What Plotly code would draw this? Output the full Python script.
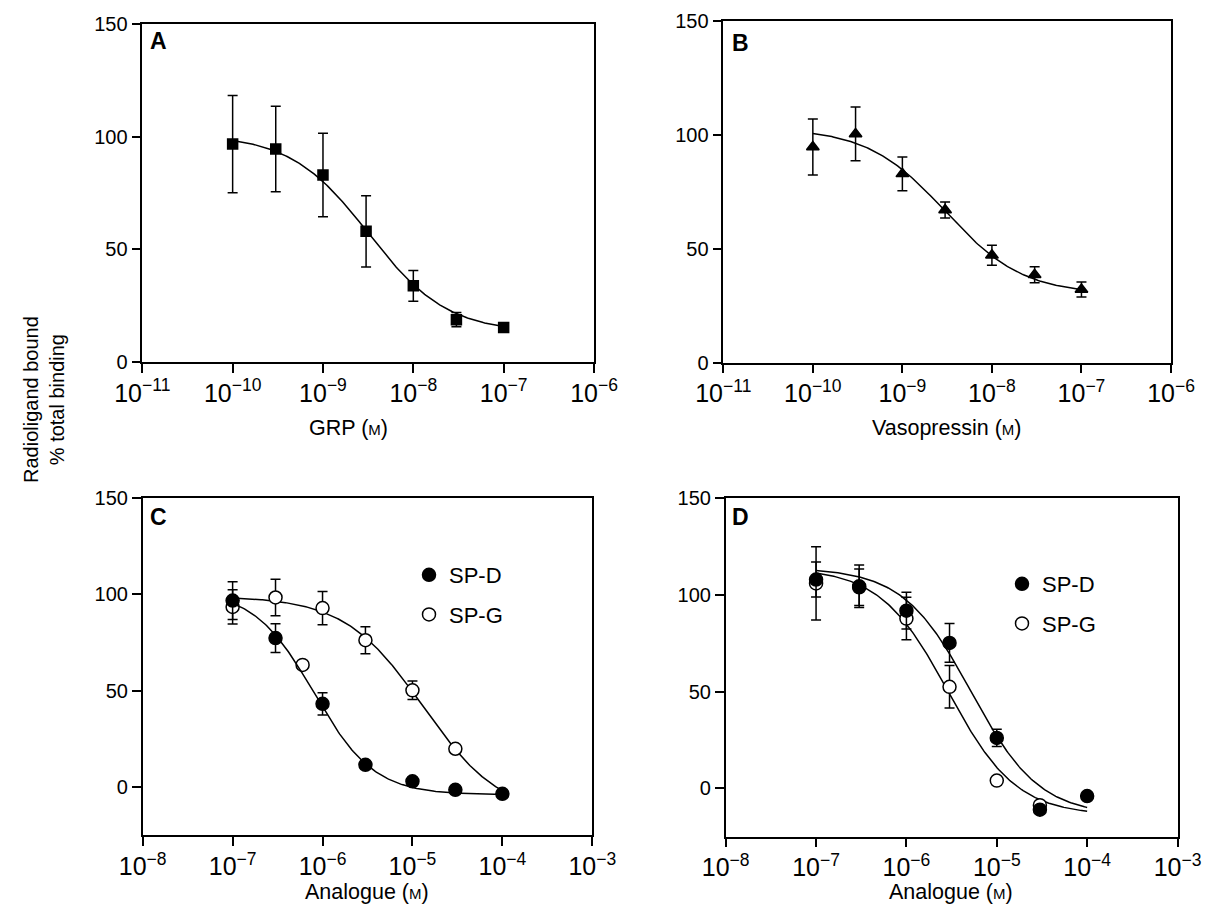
import numpy as np
import plotly.graph_objects as go

W, H = 1212, 908
OFF = 8  # default page body margin
FW, FH = W - OFF, H - OFF

# ---------------- data ----------------
# Panel A: GRP
grp_x = [1e-10, 3e-10, 1e-9, 3e-9, 1e-8, 3e-8, 1e-7]
grp_y = [96.7, 94.5, 83.0, 58.0, 33.8, 18.8, 15.3]
grp_err = [21.6, 19.0, 18.5, 15.8, 6.8, 3.2, None]
grp_fit = dict(top=101, bottom=13, ic50=3.2e-9, hill=1.0, x0=1e-10, x1=1e-7)

# Panel B: Vasopressin
avp_x = [1e-10, 3e-10, 1e-9, 3e-9, 1e-8, 3e-8, 1e-7]
avp_y = [94.7, 100.4, 82.9, 67.0, 47.2, 38.6, 32.1]
avp_err = [12.3, 11.8, 7.4, 3.5, 4.4, 3.5, 3.3]
avp_fit = dict(top=103, bottom=30, ic50=3.0e-9, hill=1.0, x0=1e-10, x1=1e-7)

# Panel C: analogues
c_spd_x = [1e-7, 3e-7, 1e-6, 3e-6, 1e-5, 3e-5, 1e-4]
c_spd_y = [96.8, 77.3, 43.2, 11.6, 3.0, -1.4, -3.5]
c_spd_err = [9.8, 7.5, 5.8, None, None, None, None]
c_spd_fit = dict(top=102, bottom=-4, ic50=8e-7, hill=1.3, x0=1e-7, x1=1e-4)

c_spg_x = [1e-7, 3e-7, 6e-7, 1e-6, 3e-6, 1e-5, 3e-5]
c_spg_y = [93.5, 98.4, 63.4, 92.9, 76.2, 50.2, 19.9]
c_spg_err = [8.9, 9.5, None, 8.6, 7.0, 4.8, None]
c_spg_fit = dict(top=99, bottom=-15, ic50=1.3e-5, hill=1.0, x0=1e-7, x1=1e-4)

# Panel D: analogues
d_spd_x = [1e-7, 3e-7, 1e-6, 3e-6, 1e-5, 3e-5, 1e-4]
d_spd_y = [108.0, 104.5, 91.9, 75.2, 26.1, -11.0, -4.0]
d_spd_err = [9.0, 11.0, 9.5, 10.0, 4.5, None, None]
d_spd_fit = dict(top=114, bottom=-14, ic50=5.2e-6, hill=1.15, x0=1e-7, x1=1e-4)

d_spg_x = [1e-7, 3e-7, 1e-6, 3e-6, 1e-5, 3e-5]
d_spg_y = [106.0, 104.0, 87.8, 52.5, 4.0, -8.7]
d_spg_err = [19.0, 9.5, 11.0, 11.0, None, None]
d_spg_fit = dict(top=114, bottom=-14, ic50=2.9e-6, hill=1.15, x0=1e-7, x1=1e-4)

y_ticks = [0, 50, 100, 150]
legend_names = ["SP-D", "SP-G"]


def fit_curve(p):
    xs = np.logspace(np.log10(p["x0"]), np.log10(p["x1"]), 200)
    ys = p["bottom"] + (p["top"] - p["bottom"]) / (1 + (xs / p["ic50"]) ** p["hill"])
    return xs, ys


# ---------------- layout helpers (page pixels -> paper) ----------------
def px(x):
    return (x - OFF) / FW


def py(y):
    return 1 - (y - OFF) / FH


def xd(a, b):
    return [px(a), px(b)]


def yd(top, bottom):
    return [py(bottom), py(top)]


FONT = "Liberation Sans, Arial, Helvetica, sans-serif"
TICKFONT = dict(family=FONT, size=20, color="black")

fig = go.Figure()

LINE = dict(color="black", width=1.5)
EB = dict(type="data", symmetric=True, color="black", thickness=1.5, width=5)


def add_panel(n, x, y, err, fit, symbol, size, fill, name=None):
    xa = "x" if n == 1 else f"x{n}"
    ya = "y" if n == 1 else f"y{n}"
    xs, ys = fit_curve(fit)
    fig.add_trace(go.Scatter(x=xs, y=ys, mode="lines", line=LINE, xaxis=xa, yaxis=ya,
                             showlegend=False, hoverinfo="skip"))
    fig.add_trace(go.Scatter(
        x=x, y=y, mode="markers", xaxis=xa, yaxis=ya, name=name, showlegend=False,
        marker=dict(symbol=symbol, size=size, color=fill, line=dict(color="black", width=1.5)),
        error_y=dict(EB, array=err)))


add_panel(1, grp_x, grp_y, grp_err, grp_fit, "square", 10, "black")
add_panel(2, avp_x, avp_y, avp_err, avp_fit, "triangle-up", 11, "black")
add_panel(3, c_spg_x, c_spg_y, c_spg_err, c_spg_fit, "circle", 13, "white", "SP-G")
add_panel(3, c_spd_x, c_spd_y, c_spd_err, c_spd_fit, "circle", 13, "black", "SP-D")
add_panel(4, d_spg_x, d_spg_y, d_spg_err, d_spg_fit, "circle", 13, "white", "SP-G")
add_panel(4, d_spd_x, d_spd_y, d_spd_err, d_spd_fit, "circle", 13, "black", "SP-D")

# legend entries (panels C and D)
for leg, xa, ya in [("legend", "x3", "y3"), ("legend2", "x4", "y4")]:
    for nm, fill in zip(legend_names, ["black", "white"]):
        fig.add_trace(go.Scatter(x=[None], y=[None], mode="markers", name=nm, xaxis=xa, yaxis=ya,
                                 legend=leg, legendgroup=leg + nm, showlegend=True,
                                 marker=dict(symbol="circle", size=13, color=fill,
                                             line=dict(color="black", width=1.5))))

axis_common = dict(showline=True, linecolor="black", linewidth=1.5, mirror=True,
                   ticks="outside", ticklen=9, tickwidth=1.5, tickcolor="black",
                   showgrid=False, zeroline=False, tickfont=TICKFONT, automargin=False)

xaxis_common = dict(axis_common, type="log", dtick=1, exponentformat="power", showexponent="all")

LEGFONT = dict(family=FONT, size=22, color="black")
layout = dict(
    width=FW, height=FH, margin=dict(l=0, r=0, t=0, b=0, autoexpand=False),
    paper_bgcolor="white", plot_bgcolor="white",
    font=dict(family=FONT, color="black"),
    xaxis=dict(xaxis_common, domain=xd(142.3, 594), range=[-11, -6], anchor="y"),
    yaxis=dict(axis_common, domain=yd(24, 362), range=[0, 150], tickvals=y_ticks, anchor="x"),
    xaxis2=dict(xaxis_common, domain=xd(723.3, 1171), range=[-11, -6], anchor="y2"),
    yaxis2=dict(axis_common, domain=yd(21, 362.7), range=[0, 150], tickvals=y_ticks, anchor="x2"),
    xaxis3=dict(xaxis_common, domain=xd(142.7, 592.3), range=[-8, -3], anchor="y3"),
    yaxis3=dict(axis_common, domain=yd(498, 835.3), range=[-25, 150], tickvals=y_ticks, anchor="x3"),
    xaxis4=dict(xaxis_common, domain=xd(725.7, 1177.5), range=[-8, -3], anchor="y4"),
    yaxis4=dict(axis_common, domain=yd(498.3, 836.7), range=[-25, 150], tickvals=y_ticks, anchor="x4"),
    legend=dict(x=px(409), y=py(554), xanchor="left", yanchor="top", bgcolor="rgba(0,0,0,0)",
                font=LEGFONT, itemwidth=30, tracegroupgap=8),
    legend2=dict(x=px(1002), y=py(563), xanchor="left", yanchor="top", bgcolor="rgba(0,0,0,0)",
                 font=LEGFONT, itemwidth=30, tracegroupgap=8),
    showlegend=True,
)
fig.update_layout(**layout)

M = "<span style='font-size:15px'>M</span>"
ann = []
titles = [("GRP (" + M + ")", 348, 428), ("Vasopressin (" + M + ")", 947, 428),
          ("Analogue (" + M + ")", 367, 892), ("Analogue (" + M + ")", 951, 892)]
for t, x0, y0 in titles:
    ann.append(dict(text=t, x=px(x0), y=py(y0), xref="paper", yref="paper", showarrow=False,
                    xanchor="center", yanchor="middle", font=dict(family=FONT, size=21.5)))
letters = [("A", 158, 41), ("B", 740, 43), ("C", 158, 517), ("D", 740, 517)]
for t, x0, y0 in letters:
    ann.append(dict(text="<b>" + t + "</b>", x=px(x0), y=py(y0), xref="paper", yref="paper",
                    showarrow=False, xanchor="center", yanchor="middle",
                    font=dict(family=FONT, size=23)))
ann.append(dict(text="Radioligand bound<br>% total binding", textangle=-90, x=px(44), y=py(400),
                xref="paper", yref="paper", showarrow=False, xanchor="center", yanchor="middle",
                font=dict(family=FONT, size=20)))
fig.update_layout(annotations=ann)

fig.write_html("out.html")
